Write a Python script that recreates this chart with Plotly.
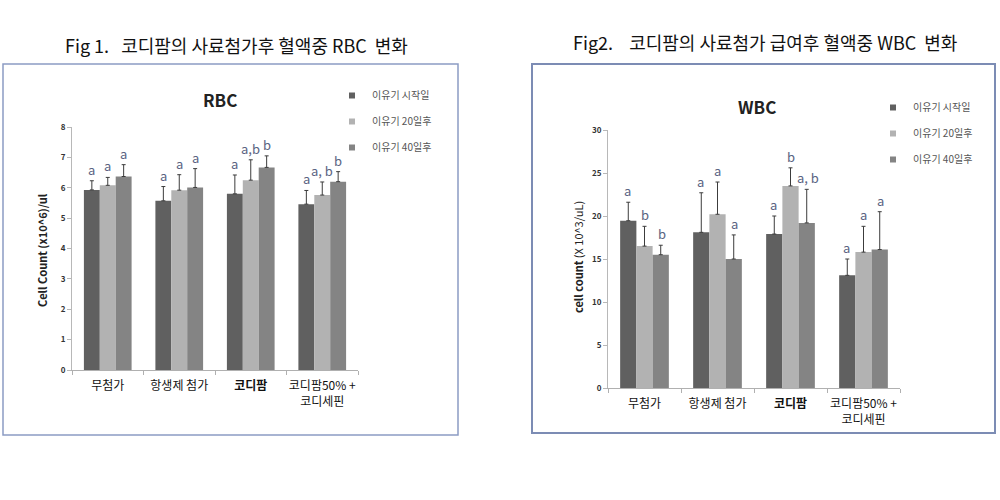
import plotly.graph_objects as go

categories = ["무첨가", "항생제 첨가", "<b>코디팜</b>", "코디팜50% +<br>코디세핀"]
series_names = ["이유기 시작일", "이유기 20일후", "이유기 40일후"]

rbc_start = [5.93, 5.57, 5.80, 5.46]
rbc_20 = [6.08, 5.92, 6.25, 5.76]
rbc_40 = [6.37, 6.01, 6.67, 6.20]
rbc_start_err = [0.30, 0.47, 0.62, 0.45]
rbc_20_err = [0.26, 0.51, 0.67, 0.43]
rbc_40_err = [0.39, 0.62, 0.38, 0.33]
rbc_letters_start = ["a", "a", "a", "a"]
rbc_letters_20 = ["a", "a", "a,b", "a, b"]
rbc_letters_40 = ["a", "a", "b", "b"]

wbc_start = [19.45, 18.1, 17.9, 13.1]
wbc_20 = [16.5, 20.2, 23.5, 15.8]
wbc_40 = [15.5, 15.0, 19.2, 16.1]
wbc_start_err = [2.15, 4.6, 2.1, 1.9]
wbc_20_err = [2.3, 3.75, 2.1, 3.0]
wbc_40_err = [1.1, 2.8, 3.9, 4.4]
wbc_letters_start = ["a", "a", "a", "a"]
wbc_letters_20 = ["b", "a", "b", "a"]
wbc_letters_40 = ["b", "a", "a, b", "a"]

colors = ["#606060", "#b2b2b2", "#848484"]
FONT = "Noto Sans CJK KR, Noto Sans, sans-serif"
LETTER_COLOR = "#5a6482"

charts = [
    dict(vals=[rbc_start, rbc_20, rbc_40], errs=[rbc_start_err, rbc_20_err, rbc_40_err],
         letters=[rbc_letters_start, rbc_letters_20, rbc_letters_40],
         xa="x", ya="y", legend="legend", gap=0.333),
    dict(vals=[wbc_start, wbc_20, wbc_40], errs=[wbc_start_err, wbc_20_err, wbc_40_err],
         letters=[wbc_letters_start, wbc_letters_20, wbc_letters_40],
         xa="x2", ya="y2", legend="legend2", gap=0.30),
]

fig = go.Figure()
annotations = []
for c_idx, ch in enumerate(charts):
    w = (1 - ch["gap"]) / 3
    for i in range(3):
        fig.add_trace(go.Bar(
            x=categories, y=ch["vals"][i], name=series_names[i],
            marker=dict(color=colors[i], line=dict(width=0)),
            error_y=dict(type="data", array=ch["errs"][i], arrayminus=[0] * 4,
                         symmetric=False, color="#3c3c3c", thickness=1, width=2),
            xaxis=ch["xa"], yaxis=ch["ya"], showlegend=False,
        ))
        # legend entry with a small square swatch
        fig.add_trace(go.Scatter(
            x=[None], y=[None], mode="markers", name=series_names[i],
            marker=dict(symbol="square", size=6, color=colors[i]),
            xaxis=ch["xa"], yaxis=ch["ya"], legend=ch["legend"],
            legendgroup=f"{ch['legend']}_{i}", showlegend=True,
        ))
        for j in range(4):
            annotations.append(dict(
                x=j + (i - 1) * w, y=ch["vals"][i][j] + ch["errs"][i][j],
                xref=ch["xa"], yref=ch["ya"], text=ch["letters"][i][j],
                showarrow=False, xanchor="center", yanchor="bottom", yshift=0,
                font=dict(size=13, color=LETTER_COLOR, family=FONT),
            ))

def paper_text(x, y, text, size, color="#222", **kw):
    d = dict(x=x / 1000, y=1 - y / 500, xref="paper", yref="paper", text=text,
             showarrow=False, xanchor="center", yanchor="middle",
             font=dict(size=size, color=color, family=FONT))
    d.update(kw)
    return d

annotations += [
    paper_text(236, 45, "Fig 1.   코디팜의 사료첨가후 혈액중 RBC  변화", 18, "#111"),
    paper_text(765, 42, "Fig2.    코디팜의 사료첨가 급여후 혈액중 WBC  변화", 18, "#111"),
    paper_text(220, 100, "<b>RBC</b>", 17),
    paper_text(757, 107, "<b>WBC</b>", 17),
    paper_text(42, 250, "<b>Cell Count (x10^6)/ul</b>", 11, textangle=-90),
    paper_text(578, 257, "<b>cell count</b> (X 10^3/uL)", 11, textangle=-90),
]

shapes = [
    dict(type="rect", xref="paper", yref="paper", x0=3 / 1000, x1=458 / 1000,
         y0=1 - 435 / 500, y1=1 - 64 / 500, line=dict(color="#8c9cc4", width=1.5)),
    dict(type="rect", xref="paper", yref="paper", x0=532 / 1000, x1=995 / 1000,
         y0=1 - 433 / 500, y1=1 - 64 / 500, line=dict(color="#7c8cb4", width=2)),
]

xaxis_common = dict(showline=True, linecolor="#b0b0b0", ticks="outside", ticklen=4,
                    tickcolor="#b0b0b0", tickson="boundaries", showgrid=False,
                    tickangle=0, automargin=False, ticklabelstandoff=5,
                    tickfont=dict(size=12, color="#111", family=FONT))
yaxis_common = dict(showline=True, linecolor="#b8b8b8", ticks="outside", ticklen=4,
                    tickcolor="#b8b8b8", showgrid=False, zeroline=False, automargin=False,
                    tickfont=dict(size=8, color="#333", family=FONT, weight="bold"))
legend_common = dict(xanchor="left", yanchor="top", bgcolor="rgba(0,0,0,0)",
                     font=dict(size=10, color="#555", family=FONT), traceorder="grouped",
                     tracegroupgap=7, itemwidth=30)

fig.update_layout(
    width=1000, height=500, margin=dict(l=0, r=0, t=0, b=0, autoexpand=False),
    paper_bgcolor="white", plot_bgcolor="white",
    barmode="group", bargap=0.333, bargroupgap=0,
    xaxis=dict(domain=[0.072, 0.358], anchor="y", **xaxis_common),
    yaxis=dict(domain=[1 - 370 / 500, 1 - 127 / 500], anchor="x", range=[0, 8], dtick=1,
               **yaxis_common),
    xaxis2=dict(domain=[0.608, 0.900], anchor="y2", **xaxis_common),
    yaxis2=dict(domain=[1 - 388 / 500, 1 - 130 / 500], anchor="x2", range=[0, 30], dtick=5,
                **yaxis_common),
    legend=dict(x=0.332, y=1 - 81 / 500, **legend_common),
    legend2=dict(x=0.873, y=1 - 93 / 500, **legend_common),
    annotations=annotations, shapes=shapes, showlegend=True,
)

fig.write_html("out.html")
